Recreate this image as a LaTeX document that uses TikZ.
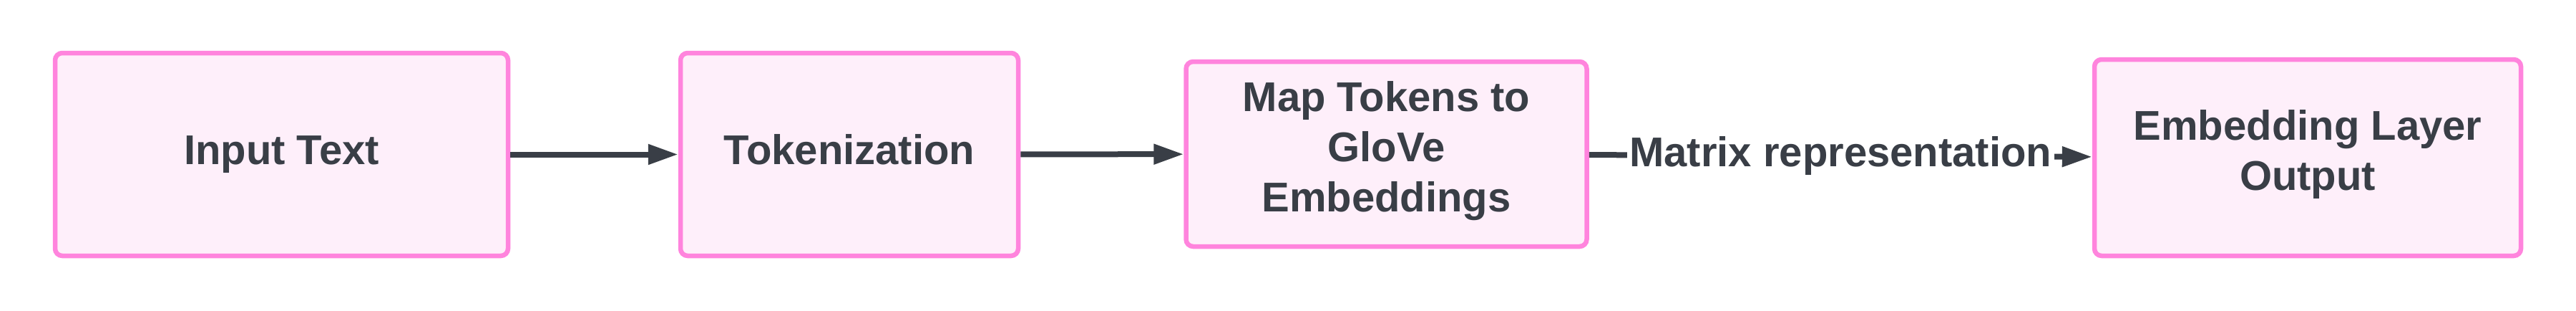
\documentclass[tikz,border=0pt]{standalone}
\usepackage{fontspec}
\setmainfont{Liberation Sans}
\usetikzlibrary{arrows.meta}
\definecolor{boxline}{HTML}{FF84DD}
\definecolor{boxfill}{HTML}{FEEFFA}
\definecolor{ink}{HTML}{393E46}
\tikzset{
  stage/.style={draw=boxline, fill=boxfill, line width=0.065cm, rounded corners=0.1cm,
                align=center, text=ink, inner sep=0pt,
                execute at begin node=\strut, execute at end node=\strut,
                font=\fontsize{16.5}{20}\selectfont\bfseries},
  flow/.style={draw=ink, line width=0.08cm, -{Triangle[length=0.42cm,width=0.27cm]}},
  flowlabel/.style={fill=white, text=ink, inner sep=1pt,
                font=\fontsize{16.5}{20}\selectfont\bfseries}
}
\begin{document}
\begin{tikzpicture}
  \useasboundingbox (0,0) rectangle (36,-4.33);
  \node[stage, minimum width=6.33cm, minimum height=2.83cm] (input) at (3.935,-2.155) {Input Text};
  \node[stage, minimum width=4.72cm, minimum height=2.83cm] (token) at (11.87,-2.155) {Tokenization};
  \node[stage, minimum width=5.60cm, minimum height=2.58cm] (glove) at (19.375,-2.15)
       {Map Tokens to\\GloVe\\Embeddings};
  \node[stage, minimum width=5.96cm, minimum height=2.74cm] (output) at (32.25,-2.20)
       {Embedding Layer\\Output};
  \draw[flow] (input) -- (token);
  \draw[flow] (token) -- (glove);
  \draw[flow] (glove) -- node[flowlabel] (matrix) {Matrix representation} (output);
\end{tikzpicture}
\end{document}
